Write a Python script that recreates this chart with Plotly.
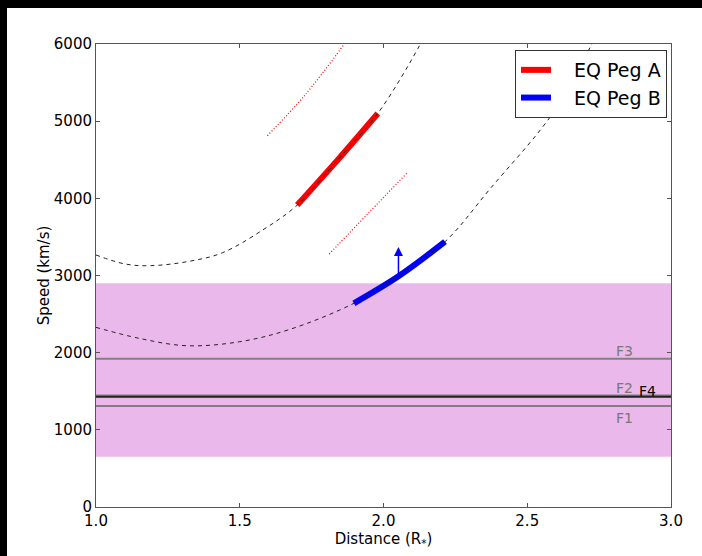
import plotly.graph_objects as go

# ---- data ----
curve_a_x = [1.00, 1.10, 1.19, 1.33, 1.44, 1.58, 1.70, 1.84, 1.98, 2.12, 2.16]
curve_a_y = [3266, 3150, 3127, 3188, 3295, 3590, 3913, 4495, 5100, 5944, 6250]
curve_b_x = [1.00, 1.15, 1.315, 1.50, 1.675, 1.897, 2.052, 2.214, 2.37, 2.59, 2.725, 2.78]
curve_b_y = [2328, 2186, 2090, 2142, 2303, 2640, 2990, 3438, 4120, 5109, 6000, 6400]

peg_a_x = [1.70, 1.84, 1.98]
peg_a_y = [3913, 4495, 5100]
peg_b_x = [1.897, 2.052, 2.214]
peg_b_y = [2640, 2990, 3438]

dot_hi_x = [1.596, 1.727, 1.864]
dot_hi_y = [4811, 5339, 6000]
dot_lo_x = [1.811, 1.947, 2.084]
dot_lo_y = [3278, 3806, 4337]

arrow_x = 2.052
arrow_from = 2990
arrow_to = 3370

band_low, band_high = 650, 2900
f_names = ["F1", "F2", "F3", "F4"]
f_speeds = [1310, 1445, 1920, 1430]
f_colors = ["#808080", "#808080", "#808080", "#222222"]

x_ticks = [1.0, 1.5, 2.0, 2.5, 3.0]
y_ticks = [0, 1000, 2000, 3000, 4000, 5000, 6000]

FONT = "DejaVu Sans"

fig = go.Figure()

# F lines
for name, v, c in zip(f_names, f_speeds, f_colors):
    fig.add_trace(go.Scatter(x=[1.0, 3.0], y=[v, v], mode="lines",
                             line=dict(color=c, width=2), showlegend=False, hoverinfo="skip"))

# red dotted
for xs, ys in [(dot_hi_x, dot_hi_y), (dot_lo_x, dot_lo_y)]:
    fig.add_trace(go.Scatter(x=xs, y=ys, mode="lines", line=dict(color="red", width=1.2, dash="1px,2px", shape="spline"),
                             showlegend=False))

fig.add_trace(go.Scatter(x=peg_a_x, y=peg_a_y, mode="lines", name="   EQ Peg A",
                         line=dict(color="red", width=6, shape="spline")))
fig.add_trace(go.Scatter(x=peg_b_x, y=peg_b_y, mode="lines", name="   EQ Peg B",
                         line=dict(color="blue", width=6, shape="spline")))

for xs, ys in [(curve_a_x, curve_a_y), (curve_b_x, curve_b_y)]:
    fig.add_trace(go.Scatter(x=xs, y=ys, mode="lines", line=dict(color="#222222", width=1, dash="4px,4px", shape="spline"),
                             showlegend=False))

fig.add_annotation(x=arrow_x, y=arrow_to, ax=arrow_x, ay=arrow_from, xref="x", yref="y", axref="x", ayref="y",
                   showarrow=True, arrowhead=2, arrowsize=1.2, arrowwidth=1.5, arrowcolor="blue", text="")

# F labels
label_dy = {"F1": -160, "F2": 95, "F3": 100, "F4": 70}
label_x = {"F1": 2.80, "F2": 2.80, "F3": 2.80, "F4": 2.88}
for name, v, c in zip(f_names, f_speeds, f_colors):
    fig.add_annotation(x=label_x[name], y=v + label_dy[name], text=name, showarrow=False,
                       xanchor="left", yanchor="middle", xref="x", yref="y",
                       font=dict(family=FONT, size=14, color="black" if name == "F4" else "#777777"))

shapes = [
    dict(type="rect", xref="x domain", yref="y", x0=0, x1=1, y0=band_low, y1=band_high,
         fillcolor="rgb(235,184,235)", line=dict(width=0), layer="below"),
    dict(type="rect", xref="paper", yref="paper", x0=-0.2, x1=(7 - 96) / 575, y0=-0.2, y1=1.2,
         fillcolor="black", line=dict(width=0), layer="above"),
    dict(type="rect", xref="paper", yref="paper", x0=-0.2, x1=1.2, y0=(507 - 8) / 463, y1=1.2,
         fillcolor="black", line=dict(width=0), layer="above"),
]

axis_common = dict(showgrid=False, zeroline=False, showline=True, linecolor="#555555", linewidth=1,
                   mirror="allticks", ticks="inside", ticklen=4, tickcolor="#555555",
                   tickfont=dict(family=FONT, size=15, color="black"))

fig.update_layout(
    width=702, height=556,
    margin=dict(l=96, r=31, t=44, b=49),
    paper_bgcolor="white", plot_bgcolor="white",
    shapes=shapes,
    font=dict(family=FONT, size=15, color="black"),
    xaxis=dict(range=[1.0, 3.0], tickvals=x_ticks, ticktext=[f"{v:.1f}" for v in x_ticks],
               title=dict(text="Distance (R<sub>*</sub>)", font=dict(family=FONT, size=15), standoff=4),
               **axis_common),
    yaxis=dict(range=[0, 6000], tickvals=y_ticks, ticktext=[str(v) for v in y_ticks],
               title=dict(text="Speed (km/s)", font=dict(family=FONT, size=15), standoff=0),
               **axis_common),
    legend=dict(x=0.993, y=0.987, xanchor="right", yanchor="top", bgcolor="white",
                bordercolor="#333333", borderwidth=1, itemwidth=30,
                font=dict(family=FONT, size=19)),
    showlegend=True,
)

fig.write_html("out.html")
